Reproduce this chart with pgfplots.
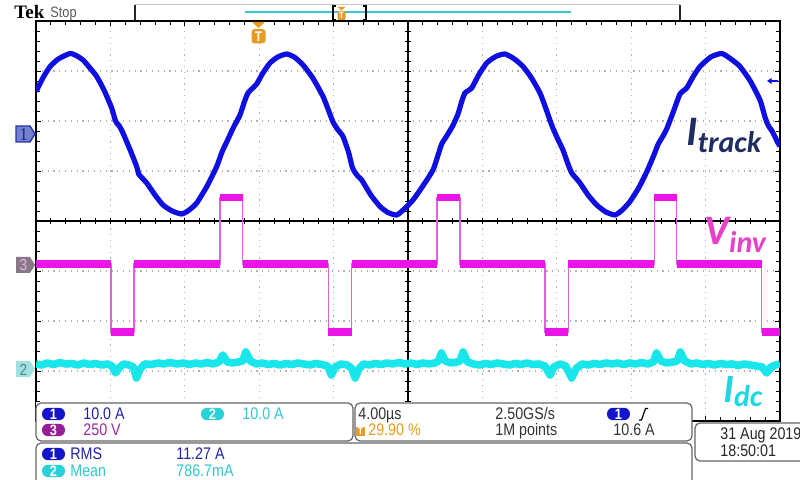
\documentclass[border=0pt]{standalone}
\usepackage{pgfplots}
\pgfplotsset{compat=1.18}
\usepackage{fontspec}
\setmainfont{Liberation Sans}
\newfontfamily\tekfont[FakeStretch=0.85]{Liberation Sans}
\newfontfamily\tekserif{Liberation Serif}
\newfontfamily\labfont{Carlito}
\definecolor{trBlue}{RGB}{15,15,225}
\definecolor{trMag}{RGB}{235,20,230}
\definecolor{trMagE}{RGB}{220,100,220}
\definecolor{trCyan}{RGB}{25,230,235}
\definecolor{navy}{RGB}{30,45,100}
\definecolor{vinv}{RGB}{230,65,200}
\definecolor{idc}{RGB}{30,215,225}
\definecolor{tekorange}{RGB}{232,155,35}
\definecolor{rdBlue}{RGB}{35,35,160}
\definecolor{rdCyan}{RGB}{50,200,205}
\definecolor{rdPurp}{RGB}{160,40,160}
\definecolor{pillBlue}{RGB}{20,20,200}
\definecolor{pillCyan}{RGB}{40,210,215}
\definecolor{pillPurp}{RGB}{150,30,150}
\definecolor{panel}{RGB}{100,100,100}
\definecolor{mkOneD}{RGB}{40,50,170}
\definecolor{mkOneF}{RGB}{115,130,205}
\definecolor{mkOneT}{RGB}{30,40,150}
\definecolor{mkThreeF}{RGB}{135,120,135}
\definecolor{mkThreeT}{RGB}{230,180,230}
\definecolor{mkTwoF}{RGB}{160,225,225}
\definecolor{mkTwoT}{RGB}{90,130,130}
\begin{document}
\begin{tikzpicture}
\path[use as bounding box] (0,0) rectangle (400pt,240pt);
\begin{axis}[
  at={(18pt,29.5pt)}, anchor=south west,
  scale only axis, width=372pt, height=200pt,
  xmin=0, xmax=10, ymin=-4, ymax=4,
  xtick={0,...,10}, ytick={-4,...,4},
  minor x tick num=4, minor y tick num=4,
  xticklabels={}, yticklabels={},
  tick align=inside, tick pos=both,
  major tick length=2.5pt, minor tick length=2pt,
  tick style={black, line width=0.4pt},
  grid=major,
  major grid style={gray!60, line width=0.6pt, dash pattern=on 0.6pt off 2.3pt},
  axis line style={black, line width=1pt},
  clip=true,
]
\draw[black, line width=0.8pt] (axis cs:0,0) -- (axis cs:10,0);
\draw[black, line width=0.6pt] (axis cs:5,-4) -- (axis cs:5,4);
\pgfplotsinvokeforeach{0.2,0.4,...,9.8}{\draw[black, line width=0.4pt] (axis cs:#1,-0.06) -- (axis cs:#1,0.06);}
\pgfplotsinvokeforeach{-3.8,-3.6,...,3.8}{\draw[black, line width=0.4pt] (axis cs:4.96,#1) -- (axis cs:5.04,#1);}

% Ch3 (V_inv): edges thin
\addplot[trMagE, line width=0.8pt, mark=none] table {
x y
0 -0.86
1.008 -0.86
1.008 -2.22
1.321 -2.22
1.321 -0.86
2.473 -0.86
2.473 0.47
2.778 0.47
2.778 -0.86
3.929 -0.86
3.929 -2.22
4.243 -2.22
4.243 -0.86
5.386 -0.86
5.386 0.47
5.699 0.47
5.699 -0.86
6.841 -0.86
6.841 -2.22
7.155 -2.22
7.155 -0.86
8.311 -0.86
8.311 0.47
8.611 0.47
8.611 -0.86
9.753 -0.86
9.753 -2.22
10 -2.22
};
% Ch3 levels: thick noisy band
\addplot[trMag, line width=3.6pt, mark=none, unbounded coords=jump] table {
x y
0 -0.86
1.008 -0.86
1.01 nan
1.008 -2.22
1.321 -2.22
1.33 nan
1.321 -0.86
2.473 -0.86
2.48 nan
2.473 0.47
2.778 0.47
2.78 nan
2.778 -0.86
3.929 -0.86
3.93 nan
3.929 -2.22
4.243 -2.22
4.25 nan
4.243 -0.86
5.386 -0.86
5.39 nan
5.386 0.47
5.699 0.47
5.70 nan
5.699 -0.86
6.841 -0.86
6.85 nan
6.841 -2.22
7.155 -2.22
7.16 nan
7.155 -0.86
8.311 -0.86
8.32 nan
8.311 0.47
8.611 0.47
8.62 nan
8.611 -0.86
9.753 -0.86
9.76 nan
9.753 -2.22
10 -2.22
};
% Ch2 (I_dc)
\addplot[trCyan, line width=3.8pt, mark=none, line join=round] table {
x y
0.00 -2.86
0.08 -2.88
0.15 -2.84
0.24 -2.87
0.32 -2.83
0.40 -2.86
0.48 -2.85
0.56 -2.88
0.64 -2.84
0.72 -2.87
0.80 -2.85
0.88 -2.88
0.96 -2.86
1.02 -2.90
1.07 -3.04
1.12 -2.93
1.18 -2.86
1.25 -2.88
1.31 -2.92
1.35 -3.14
1.40 -2.96
1.46 -2.86
1.55 -2.87
1.64 -2.84
1.72 -2.86
1.80 -2.83
1.90 -2.86
1.98 -2.84
2.06 -2.87
2.14 -2.84
2.22 -2.86
2.30 -2.83
2.38 -2.86
2.46 -2.82
2.51 -2.68
2.57 -2.82
2.64 -2.84
2.72 -2.82
2.78 -2.80
2.82 -2.62
2.88 -2.80
2.96 -2.86
3.04 -2.84
3.12 -2.87
3.20 -2.85
3.28 -2.88
3.36 -2.85
3.44 -2.87
3.52 -2.84
3.60 -2.86
3.68 -2.88
3.76 -2.85
3.84 -2.87
3.92 -2.90
3.97 -3.08
4.02 -2.92
4.10 -2.86
4.18 -2.88
4.24 -2.94
4.29 -3.14
4.34 -2.96
4.40 -2.86
4.48 -2.88
4.56 -2.85
4.64 -2.87
4.72 -2.84
4.80 -2.86
4.88 -2.83
4.96 -2.86
5.04 -2.84
5.12 -2.87
5.20 -2.84
5.28 -2.86
5.36 -2.84
5.41 -2.80
5.45 -2.64
5.50 -2.80
5.58 -2.84
5.66 -2.82
5.70 -2.80
5.74 -2.62
5.80 -2.82
5.88 -2.86
5.96 -2.88
6.04 -2.85
6.12 -2.87
6.20 -2.84
6.28 -2.86
6.36 -2.88
6.44 -2.85
6.52 -2.87
6.60 -2.84
6.68 -2.87
6.76 -2.86
6.84 -2.90
6.91 -3.08
6.96 -2.92
7.04 -2.86
7.12 -2.90
7.20 -3.14
7.26 -2.95
7.34 -2.86
7.42 -2.88
7.50 -2.85
7.58 -2.87
7.66 -2.84
7.74 -2.86
7.82 -2.84
7.90 -2.87
7.98 -2.84
8.06 -2.86
8.14 -2.83
8.22 -2.86
8.30 -2.82
8.34 -2.64
8.40 -2.80
8.48 -2.84
8.56 -2.82
8.62 -2.80
8.66 -2.62
8.72 -2.80
8.80 -2.86
8.88 -2.84
8.96 -2.87
9.04 -2.85
9.12 -2.88
9.20 -2.85
9.28 -2.87
9.36 -2.86
9.44 -2.89
9.52 -2.86
9.60 -2.88
9.68 -2.90
9.76 -2.92
9.82 -3.04
9.88 -2.92
9.94 -2.88
10.0 -2.86
};
% Ch1 (I_track)
\addplot[trBlue, line width=2.6pt, mark=none, smooth, tension=0.35, line join=round] table {
x y
0.000 2.59
0.10 2.88
0.19 3.09
0.30 3.24
0.457 3.35
0.55 3.30
0.632 3.22
0.72 3.07
0.816 2.89
0.92 2.60
1.017 2.26
1.06 2.04
1.085 1.96
1.12 1.90
1.169 1.76
1.26 1.44
1.353 1.09
1.38 0.94
1.42 0.87
1.488 0.76
1.60 0.52
1.707 0.32
1.83 0.20
1.958 0.14
2.06 0.22
2.160 0.36
2.30 0.70
2.429 1.09
2.50 1.38
2.563 1.58
2.65 1.86
2.742 2.12
2.80 2.38
2.849 2.56
2.90 2.64
2.966 2.74
3.05 2.96
3.145 3.16
3.25 3.28
3.370 3.34
3.48 3.27
3.589 3.12
3.72 2.86
3.858 2.49
3.94 2.18
3.992 1.98
4.05 1.84
4.126 1.69
4.20 1.38
4.25 1.08
4.288 0.97
4.33 0.89
4.378 0.82
4.50 0.52
4.624 0.29
4.73 0.17
4.848 0.12
4.95 0.24
5.067 0.42
5.20 0.70
5.336 1.02
5.40 1.30
5.453 1.54
5.520 1.70
5.60 1.90
5.672 2.14
5.72 2.38
5.766 2.56
5.856 2.66
5.95 2.92
6.058 3.16
6.18 3.29
6.304 3.34
6.43 3.24
6.546 3.09
6.66 2.86
6.774 2.56
6.86 2.22
6.931 1.92
7.00 1.68
7.083 1.42
7.15 1.14
7.200 0.96
7.25 0.87
7.312 0.76
7.42 0.52
7.536 0.32
7.66 0.18
7.782 0.12
7.88 0.22
7.984 0.39
8.10 0.66
8.208 0.98
8.30 1.30
8.364 1.54
8.42 1.68
8.477 1.84
8.57 2.20
8.656 2.54
8.746 2.66
8.83 2.88
8.925 3.09
9.07 3.28
9.217 3.35
9.34 3.24
9.462 3.09
9.60 2.80
9.731 2.42
9.80 2.07
9.839 1.92
9.90 1.78
9.973 1.56
10.0 1.50
};
\end{axis}

\begin{scope}[x=0.5pt, y=-0.5pt, yshift=240pt]
% header
\node[anchor=base west, inner sep=0, font=\tekserif\bfseries\fontsize{9.5}{9.5}\selectfont] at (14,18.5) {Tek};
\node[anchor=base west, inner sep=0, text=black!65, font=\tekfont\fontsize{7.5}{7.5}\selectfont] at (50,18) {Stop};
\draw[gray!45, line width=0.5pt] (135,5) -- (680,5);
\draw[black!85, line width=0.8pt] (135,21) -- (135,5);
\draw[black!85, line width=0.8pt] (680,5) -- (680,21);
\draw[black, line width=1pt] (135,21) -- (680,21);
\draw[rdCyan, line width=0.7pt] (245,12) -- (571,12);
\draw[black, line width=1pt] (336,6) -- (333,6) -- (333,20) -- (336,20);
\draw[black, line width=1pt] (363,6) -- (366,6) -- (366,20) -- (363,20);
\fill[tekorange] (337.5,7) -- (345.5,7) -- (341.5,10.5) -- cycle;
\fill[tekorange, rounded corners=0.6pt] (337.5,11) rectangle (345.5,20);
\node[text=white, inner sep=0, font=\tekfont\bfseries\fontsize{4.5}{4.5}\selectfont] at (341.5,15.5) {T};
% trigger position marker
\fill[tekorange] (252,22) -- (265,22) -- (258.5,28) -- cycle;
\fill[tekorange, rounded corners=1.5pt] (251.5,29) rectangle (265.5,43.5);
\node[text=white, inner sep=0, font=\tekfont\bfseries\fontsize{7}{7}\selectfont] at (258.5,36.5) {T};
% channel markers
\draw[draw=mkOneD, fill=mkOneF, line width=0.7pt] (16,126) -- (30,126) -- (35,134) -- (30,142) -- (16,142) -- cycle;
\node[text=mkOneT, inner sep=0, font=\tekserif\fontsize{9}{9}\selectfont] at (23.5,134.5) {1};
\fill[mkThreeF] (16,257) -- (30,257) -- (35,265) -- (30,273) -- (16,273) -- cycle;
\node[text=mkThreeT, inner sep=0, font=\tekfont\fontsize{8}{8}\selectfont] at (23.5,265.5) {3};
\fill[mkTwoF] (16,361) -- (30,361) -- (35,369) -- (30,377) -- (16,377) -- cycle;
\node[text=mkTwoT, inner sep=0, font=\tekfont\fontsize{8}{8}\selectfont] at (23.5,369.5) {2};
% right-edge arrow
\draw[trBlue, line width=0.8pt] (778,81) -- (770,81);
\fill[trBlue] (767,81) -- (771.5,78) -- (771.5,84) -- cycle;
% labels
\node[anchor=base west, inner sep=0, text=navy, font=\labfont\bfseries\itshape] at (686,146)
  {\fontsize{21}{21}\selectfont I\fontsize{15}{15}\selectfont\raisebox{-3.5pt}{track}};
\node[anchor=base west, inner sep=0, text=vinv, font=\labfont\bfseries\itshape] at (704,245)
  {\fontsize{21}{21}\selectfont V\fontsize{15}{15}\selectfont\raisebox{-4pt}{inv}};
\node[anchor=base west, inner sep=0, text=idc, font=\labfont\bfseries\itshape] at (723,403)
  {\fontsize{20}{20}\selectfont I\fontsize{15}{15}\selectfont\raisebox{-2pt}{dc}};
% readout panels
\fill[white] (36,402) rectangle (692,423);
\draw[panel, line width=0.6pt, fill=white, rounded corners=2.5pt] (36,403) rectangle (353,441);
\draw[panel, line width=0.6pt, fill=white, rounded corners=2.5pt] (355,403) rectangle (692,441);
\draw[panel, line width=0.6pt, fill=white, rounded corners=2.5pt] (36,443) rectangle (692,486);
\draw[panel, line width=0.6pt, fill=white, rounded corners=2.5pt] (695,423) rectangle (808,461);
\tikzset{pill/.style={rounded corners=3pt, minimum width=11.5pt, minimum height=6.2pt, inner sep=0pt, text=white, font=\tekfont\bfseries\fontsize{7.5}{7.5}\selectfont},
  rd/.style={anchor=base west, inner sep=0, font=\tekfont\fontsize{8.4}{8.4}\selectfont}}
\node[pill, fill=pillBlue] at (53.5,414) {1};
\node[rd, text=rdBlue] at (83,420) {10.0 A};
\node[pill, fill=pillCyan] at (212.5,414) {2};
\node[rd, text=rdCyan] at (242,420) {10.0 A};
\node[pill, fill=pillPurp] at (53.5,430) {3};
\node[rd, text=rdPurp] at (83,436) {250 V};
\node[rd, text=black!80] at (358,420) {4.00µs};
\node[rd, text=black!80] at (495,420) {2.50GS/s};
\node[pill, fill=pillBlue] at (618.5,414) {1};
\draw[black, line width=0.6pt] (639,420) -- (641.5,420) -- (645.5,408.5) -- (648,408.5);
\node[fill=tekorange, minimum size=4.5pt, inner sep=0, text=white, font=\tekfont\bfseries\fontsize{5}{5}\selectfont] at (360.5,431.5) {T};
\node[rd, text=tekorange] at (368,436) {29.90 \%};
\node[rd, text=black!80] at (495,436) {1M points};
\node[rd, text=black!80] at (613,436) {10.6 A};
\node[pill, fill=pillBlue] at (53.5,454) {1};
\node[rd, text=rdBlue] at (70,460) {RMS};
\node[rd, text=rdBlue] at (176,460) {11.27 A};
\node[pill, fill=pillCyan] at (53.5,471) {2};
\node[rd, text=rdCyan] at (70,477) {Mean};
\node[rd, text=rdCyan] at (176,477) {786.7mA};
\node[rd, text=black!85] at (720,440) {31 Aug 2019};
\node[rd, text=black!85] at (720,457) {18:50:01};
\end{scope}
\end{tikzpicture}
\end{document}
